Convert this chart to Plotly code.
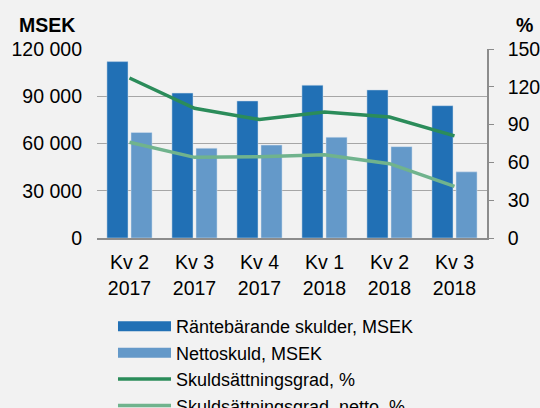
import plotly.graph_objects as go

categories = ["Kv 2<br>2017", "Kv 3<br>2017", "Kv 4<br>2017", "Kv 1<br>2018", "Kv 2<br>2018", "Kv 3<br>2018"]
rantebarande = [112000, 92000, 87000, 97000, 94000, 84000]
nettoskuld = [67000, 57000, 59000, 64000, 58000, 42000]
skuldsattningsgrad = [127, 103, 94, 100, 96, 81]
skuldsattningsgrad_netto = [76, 64, 64.5, 66, 59, 41]

left_ticks = [0, 30000, 60000, 90000, 120000]
left_ticktext = ["0", "30 000", "60 000", "90 000", "120 000"]
right_ticks = [0, 30, 60, 90, 120, 150]

names = ["Räntebärande skulder, MSEK", "Nettoskuld, MSEK", "Skuldsättningsgrad, %", "Skuldsättningsgrad, netto, %"]

DARK_BLUE = "#2170b5"
LIGHT_BLUE = "#6499c9"
DARK_GREEN = "#2b8c5a"
LIGHT_GREEN = "#70b38d"
FONT = "Liberation Sans, Arial, sans-serif"
FS = 19.5

W, H = 540, 408
pl, pr, pt, pb = 97, 487, 49, 238

fig = go.Figure()
fig.add_trace(go.Bar(x=categories, y=rantebarande, name=names[0], marker=dict(color=DARK_BLUE, line=dict(color="#cfdcea", width=0.5)), showlegend=False))
fig.add_trace(go.Bar(x=categories, y=nettoskuld, name=names[1], marker=dict(color=LIGHT_BLUE, line=dict(color="#d6e2ee", width=0.5)), showlegend=False))
fig.add_trace(go.Scatter(x=categories, y=skuldsattningsgrad, name=names[2], mode="lines", line=dict(color=DARK_GREEN, width=3.5), yaxis="y2", showlegend=False))
fig.add_trace(go.Scatter(x=categories, y=skuldsattningsgrad_netto, name=names[3], mode="lines", line=dict(color=LIGHT_GREEN, width=3.5), yaxis="y2", showlegend=False))

# legend entries (Excel-style wide swatches)
fig.add_trace(go.Scatter(x=[None], y=[None], name=names[0], mode="lines", line=dict(color=DARK_BLUE, width=11)))
fig.add_trace(go.Scatter(x=[None], y=[None], name=names[1], mode="lines", line=dict(color=LIGHT_BLUE, width=11)))
fig.add_trace(go.Scatter(x=[None], y=[None], name=names[2], mode="lines", line=dict(color=DARK_GREEN, width=3.5)))
fig.add_trace(go.Scatter(x=[None], y=[None], name=names[3], mode="lines", line=dict(color=LIGHT_GREEN, width=3.5)))

def px_to_paper(xw, yw):
    return (xw - pl) / (pr - pl), (pb - yw) / (pb - pt)

fig.update_layout(
    width=W, height=H,
    margin=dict(l=pl, r=W - pr, t=pt, b=H - pb, autoexpand=False),
    paper_bgcolor="#f2f2f2", plot_bgcolor="#f2f2f2",
    font=dict(family=FONT, size=FS, color="#000000"),
    barmode="group", bargap=0.26, bargroupgap=0.125,
    xaxis=dict(showgrid=False, showline=True, linecolor="#8c8c8c", linewidth=1.5,
               ticks="", tickfont=dict(size=FS), fixedrange=True, ticklabelstandoff=6),
    yaxis=dict(range=[0, 120000], tickvals=left_ticks, ticktext=left_ticktext,
               showgrid=True, gridcolor="#a6a6a6", gridwidth=1.2, showline=False,
               zeroline=False, ticks="", ticklabelstandoff=14, tickfont=dict(size=FS)),
    yaxis2=dict(range=[0, 150], tickvals=right_ticks, overlaying="y", side="right",
                showgrid=False, showline=True, linecolor="#8c8c8c", linewidth=1.5,
                ticks="outside", ticklen=5, tickcolor="#8c8c8c", zeroline=False,
                ticklabelstandoff=10, tickfont=dict(size=FS)),
    legend=dict(x=0.041, y=-0.371, xanchor="left", yanchor="top", orientation="v",
                font=dict(size=18), bgcolor="rgba(0,0,0,0)", itemwidth=53,
                tracegroupgap=0),
)
mx, my = px_to_paper(47, 25)
px_, py_ = px_to_paper(524, 25)
fig.add_annotation(text="<b>MSEK</b>", x=mx, y=my, xref="paper", yref="paper", xanchor="center", yanchor="middle", showarrow=False, font=dict(size=FS))
fig.add_annotation(text="<b>%</b>", x=px_, y=py_, xref="paper", yref="paper", xanchor="center", yanchor="middle", showarrow=False, font=dict(size=FS))

fig.write_html("out.html", config={"displayModeBar": False},
               post_script="document.body.style.margin='0';document.body.style.overflow='hidden';")
